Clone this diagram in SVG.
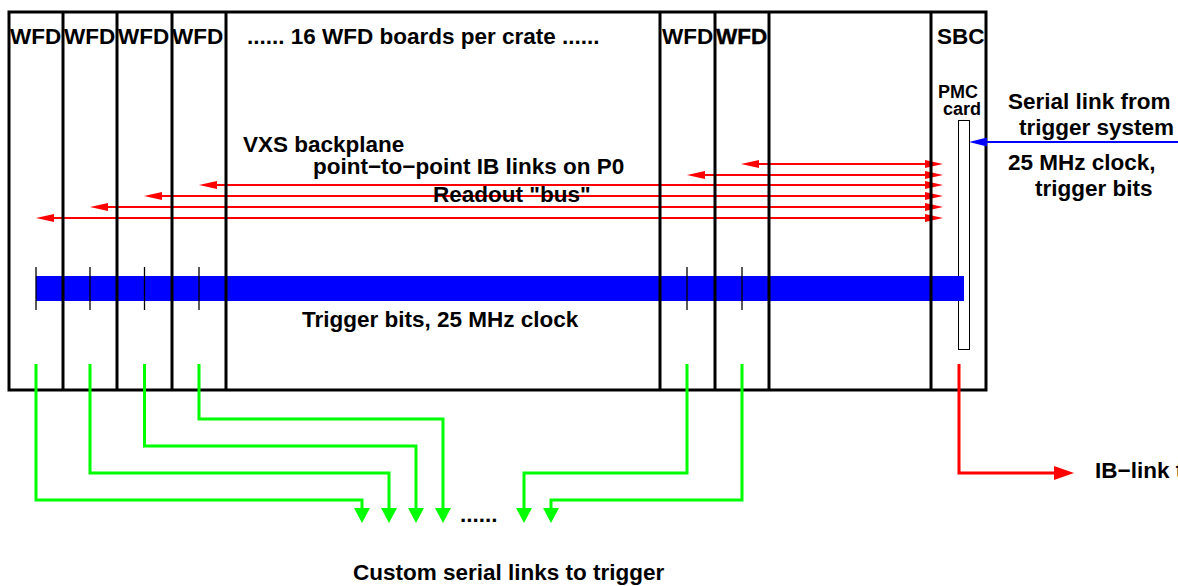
<svg xmlns="http://www.w3.org/2000/svg" width="1178" height="586" viewBox="0 0 1178 586">
<style>
text{font-family:"Liberation Sans",Arial,Helvetica,sans-serif;font-weight:bold;font-size:22.5px;fill:#000}
.small{font-size:18px}
.board{fill:none;stroke:#000;stroke-width:3}
.tick{stroke:#000;stroke-width:1.3}
.red{fill:none;stroke:#ff0000;stroke-width:2}
.green{fill:none;stroke:#00ff00;stroke-width:3}
.ib{fill:none;stroke:#ff0000;stroke-width:3}
.blue{fill:none;stroke:#0000ff;stroke-width:2}
</style>
<defs>
<marker id="ar" markerUnits="userSpaceOnUse" viewBox="0 0 18 8" refX="0" refY="4" markerWidth="18" markerHeight="8" orient="auto-start-reverse"><path d="M0,0 L18,4 L0,8 z" fill="#ff0000"/></marker>
<marker id="ab" markerUnits="userSpaceOnUse" viewBox="0 0 18 9" refX="0" refY="4.5" markerWidth="18" markerHeight="9" orient="auto"><path d="M0,0 L18,4.5 L0,9 z" fill="#0000ff"/></marker>
<marker id="ag" markerUnits="userSpaceOnUse" viewBox="0 0 15 16" refX="0" refY="8" markerWidth="15" markerHeight="16" orient="auto"><path d="M0,0 L15,8 L0,16 z" fill="#00ff00"/></marker>
<marker id="ai" markerUnits="userSpaceOnUse" viewBox="0 0 20 14" refX="0" refY="7" markerWidth="20" markerHeight="14" orient="auto"><path d="M0,0 L20,7 L0,14 z" fill="#ff0000"/></marker>
</defs>
<rect width="1178" height="586" fill="#fff"/>

<g id="pmc-card">
<rect x="958.5" y="120.5" width="11" height="229" fill="#fff" stroke="#000" stroke-width="1"/>
<text class="small" x="938" y="97.5">PMC</text>
<text class="small" x="943" y="115">card</text>
</g>

<g id="trigger-bus">
<rect x="36" y="276" width="928" height="25" fill="#0000ff"/>
<text x="302" y="327">Trigger bits, 25 MHz clock</text>
</g>

<g id="connectors">
<path class="red" d="M759,164 H925" marker-start="url(#ar)" marker-end="url(#ar)"/>
<path class="red" d="M705,175 H925" marker-start="url(#ar)" marker-end="url(#ar)"/>
<path class="red" d="M217,185 H925" marker-start="url(#ar)" marker-end="url(#ar)"/>
<path class="red" d="M162,196 H925" marker-start="url(#ar)" marker-end="url(#ar)"/>
<path class="red" d="M108,207 H925" marker-start="url(#ar)" marker-end="url(#ar)"/>
<path class="red" d="M54,218 H925" marker-start="url(#ar)" marker-end="url(#ar)"/>
</g>

<g id="crate">
<rect class="board" x="9" y="12" width="977" height="378"/>
</g>
<g id="wfd1"><line class="board" x1="63" y1="12" x2="63" y2="390"/><text x="10" y="44">WFD</text></g>
<g id="wfd2"><line class="board" x1="117" y1="12" x2="117" y2="390"/><text x="64" y="44">WFD</text></g>
<g id="wfd3"><line class="board" x1="172" y1="12" x2="172" y2="390"/><text x="118" y="44">WFD</text></g>
<g id="wfd4"><line class="board" x1="226" y1="12" x2="226" y2="390"/><text x="172" y="44">WFD</text></g>
<g id="wfd-middle"><line class="board" x1="660" y1="12" x2="660" y2="390"/><text x="247" y="44">...... 16 WFD boards per crate ......</text></g>
<g id="wfd15"><line class="board" x1="715" y1="12" x2="715" y2="390"/><text x="662" y="44">WFD</text></g>
<g id="wfd16"><line class="board" x1="769" y1="12" x2="769" y2="390"/><text x="716" y="44" stroke="#000" stroke-width="0.4">WFD</text></g>
<g id="empty-slot"><line class="board" x1="931" y1="12" x2="931" y2="390"/></g>
<g id="sbc"><text x="937" y="44">SBC</text></g>

<g id="ticks">
<line class="tick" x1="36" y1="267" x2="36" y2="310"/>
<line class="tick" x1="90" y1="267" x2="90" y2="310"/>
<line class="tick" x1="144.5" y1="267" x2="144.5" y2="310"/>
<line class="tick" x1="199" y1="267" x2="199" y2="310"/>
<line class="tick" x1="687" y1="267" x2="687" y2="310"/>
<line class="tick" x1="742" y1="267" x2="742" y2="310"/>
</g>

<g id="connectors-2">
<path class="blue" d="M1178,142 H987" marker-end="url(#ab)"/>
<path class="green" d="M36,364 V500 H362 V508" marker-end="url(#ag)"/>
<path class="green" d="M90,364 V473 H389 V508" marker-end="url(#ag)"/>
<path class="green" d="M144.5,364 V446 H416 V508" marker-end="url(#ag)"/>
<path class="green" d="M199,364 V419 H443 V508" marker-end="url(#ag)"/>
<path class="green" d="M687,364 V473 H524 V508" marker-end="url(#ag)"/>
<path class="green" d="M742,364 V500 H551 V508" marker-end="url(#ag)"/>
<path class="ib" d="M959,364 V473 H1054" marker-end="url(#ai)"/>
</g>

<g id="labels">
<text x="243" y="152">VXS backplane</text>
<text x="313" y="174">point−to−point IB links on P0</text>
<text x="433" y="202">Readout "bus"</text>
<text x="1008" y="109">Serial link from</text>
<text x="1019" y="135">trigger system</text>
<text x="1008" y="170">25 MHz clock,</text>
<text x="1035" y="196">trigger bits</text>
<text x="460" y="522">......</text>
<text x="353" y="580">Custom serial links to trigger</text>
<text x="1095" y="478">IB−link t</text>
</g>
</svg>
